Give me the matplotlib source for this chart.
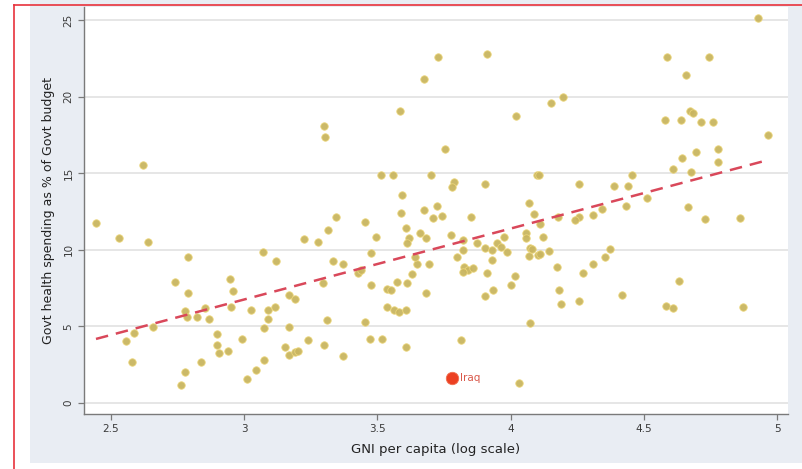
import numpy as np
import matplotlib
matplotlib.use("Agg")
import matplotlib.pyplot as plt
from matplotlib.patches import Rectangle
from matplotlib.lines import Line2D

# log GNI per capita and govt health spending share (% of govt budget)
gni_log = [
    2.444, 2.530, 2.639, 2.620, 3.224, 3.277, 3.071, 2.789, 3.119, 2.740,
    2.947, 2.958, 2.789, 3.168, 3.191, 2.778, 2.785, 2.823, 2.853, 2.868,
    2.950, 3.026, 3.089, 3.116, 3.089, 3.074, 3.168, 2.658, 2.586, 2.556,
    2.579, 2.898, 2.898, 2.905, 2.939, 2.992, 2.838, 2.778, 2.763, 3.011,
    3.044, 3.074, 3.153, 3.168, 3.191, 3.202, 3.239,
    3.727, 3.911, 3.675, 3.585, 4.020, 3.300, 3.303, 3.754, 3.514, 3.559,
    3.701, 3.788, 3.780, 3.904, 4.099, 3.592, 3.589, 3.675, 3.724, 3.709,
    3.742, 3.851, 4.069, 4.088, 3.345, 3.453, 3.315, 3.607, 3.660, 3.495,
    3.619, 3.682, 3.776, 3.975, 4.058, 4.058,
    3.611, 3.476, 3.333, 3.371, 3.427, 3.438, 3.296, 3.476, 3.536, 3.551,
    3.574, 3.611, 3.630, 3.649, 3.694, 3.641, 3.682, 3.536, 3.562, 3.581,
    3.607, 3.311, 3.453, 3.300, 3.371, 3.472, 3.517, 3.607, 3.814, 4.032,
    4.073, 3.799, 3.821, 3.825, 3.840, 3.859, 3.821, 3.911, 3.930, 3.874,
    3.904, 3.930, 3.949, 3.964, 3.986, 3.934, 3.904, 4.002, 4.017, 4.073,
    4.069, 4.103, 3.821,
    4.929, 4.587, 4.745, 4.658, 4.152, 4.197, 4.673, 4.685, 4.580, 4.640,
    4.715, 4.760, 4.966, 4.779, 4.696, 4.643, 4.779, 4.610, 4.677, 4.107,
    4.456, 4.257, 4.388, 4.441, 4.512, 4.433, 4.343, 4.309, 4.257, 4.242,
    4.178, 4.666, 4.730, 4.861, 4.110, 4.122, 4.080, 4.110, 4.144, 4.174,
    4.272, 4.309, 4.354, 4.373, 4.182, 4.189, 4.257, 4.418, 4.632, 4.583,
    4.610, 4.872,
]
health_share = [
    11.75, 10.77, 10.51, 15.54, 10.70, 10.51, 9.86, 9.53, 9.27, 7.90,
    8.09, 7.31, 7.18, 7.05, 6.79, 6.01, 5.61, 5.61, 6.20, 5.48,
    6.27, 6.07, 6.07, 6.27, 5.48, 4.90, 4.96, 4.96, 4.57, 4.05,
    2.68, 4.50, 3.79, 3.26, 3.39, 4.18, 2.68, 2.02, 1.17, 1.57,
    2.15, 2.81, 3.66, 3.13, 3.33, 3.39, 4.11,
    22.58, 22.78, 21.15, 19.06, 18.73, 18.08, 17.36, 16.58, 14.88, 14.88,
    14.88, 14.43, 14.10, 14.30, 14.88, 13.58, 12.40, 12.60, 12.86, 12.08,
    12.21, 12.14, 13.05, 12.34, 12.14, 11.81, 11.29, 11.42, 11.10, 10.84,
    10.77, 10.77, 10.97, 10.84, 11.10, 10.77,
    10.44, 9.79, 9.27, 9.07, 8.49, 8.68, 7.83, 7.70, 7.44, 7.38,
    7.90, 7.83, 8.42, 9.07, 9.07, 9.53, 7.18, 6.27, 6.07, 5.94,
    6.07, 5.42, 5.29, 3.79, 3.07, 4.18, 4.18, 3.66, 4.11, 1.31,
    5.22, 9.53, 9.99, 8.88, 8.68, 8.81, 8.55, 8.49, 9.33, 10.44,
    10.12, 9.99, 10.44, 10.18, 9.86, 7.38, 6.98, 7.70, 8.29, 10.12,
    9.60, 9.66, 10.64,
    25.13, 22.58, 22.58, 21.41, 19.58, 19.97, 19.06, 18.93, 18.47, 18.47,
    18.34, 18.34, 17.49, 16.58, 16.38, 15.99, 15.73, 15.27, 15.08, 14.88,
    14.88, 14.30, 14.16, 14.16, 13.38, 12.86, 12.66, 12.27, 12.14, 11.95,
    12.14, 12.79, 12.01, 12.08, 11.68, 10.84, 10.05, 9.73, 9.92, 8.88,
    8.49, 9.07, 9.53, 10.05, 7.38, 6.46, 6.66, 7.05, 7.96, 6.33,
    6.20, 6.27,
]

# highlighted country
iraq_x, iraq_y = 3.78, 1.65

# fitted line end points
fit_x = [2.444, 4.966]
fit_y = [4.18, 15.86]

x_ticks = [2.5, 3, 3.5, 4, 4.5, 5]
x_tick_labels = ["2.5", "3", "3.5", "4", "4.5", "5"]
y_ticks = [0, 5, 10, 15, 20, 25]

W, H = 803, 469
fig = plt.figure(figsize=(W / 100, H / 100), dpi=100)
fig.patch.set_facecolor("white")

# grey-blue panel and the red screenshot frame
fig.patches.append(Rectangle((30 / W, 1 - 463 / H), 1 - 30 / W, 463 / H,
                             transform=fig.transFigure, facecolor="#e9edf3",
                             edgecolor="none", zorder=-10))
fig.add_artist(Line2D([14 / W, 14 / W], [0, 1 - 5 / H], transform=fig.transFigure,
                      color="#e8323c", lw=1.2))
fig.add_artist(Line2D([14 / W, 1], [1 - 5 / H, 1 - 5 / H], transform=fig.transFigure,
                      color="#e8323c", lw=1.2))

ax = fig.add_axes([84 / W, 1 - 414 / H, (788 - 84) / W, (414 - 7) / H])
ax.set_facecolor("white")
ax.set_xlim(2.399, 5.041)
ax.set_ylim(-0.72, 25.85)

for yv in y_ticks:
    ax.axhline(yv, color="#e4e4e4", lw=1.3, zorder=1)

ax.scatter(gni_log, health_share, s=29, color="#c9b560", edgecolors="#ecd67a",
           linewidths=0.6, alpha=0.95, zorder=3)
ax.plot(fit_x, fit_y, color="#d9485a", lw=1.8, dashes=(5, 3.2), zorder=4)

ax.scatter([iraq_x], [iraq_y], s=80, color="#ec4022", edgecolors="#f07050",
           linewidths=0.6, zorder=5)
ax.annotate("Iraq", (iraq_x, iraq_y), xytext=(6, 0), textcoords="offset points",
            va="center", ha="left", fontsize=7.5, color="#d9584a", zorder=5)

for side in ["top", "right"]:
    ax.spines[side].set_visible(False)
for side in ["left", "bottom"]:
    ax.spines[side].set_color("#7a7a7a")
    ax.spines[side].set_linewidth(1.0)

ax.set_xticks(x_ticks)
ax.set_xticklabels(x_tick_labels)
ax.set_yticks(y_ticks)
ax.set_yticklabels([str(v) for v in y_ticks], rotation=90, va="center")
ax.tick_params(axis="both", colors="#7a7a7a", labelcolor="#3a3a3a",
               labelsize=7.5, length=4, width=0.9, direction="out")

ax.set_xlabel("GNI per capita (log scale)", fontsize=9.5, color="#222222", labelpad=6)
ax.set_ylabel("Govt health spending as % of Govt budget", fontsize=9, color="#222222",
              labelpad=6)

fig.savefig("out.png", dpi=100)
